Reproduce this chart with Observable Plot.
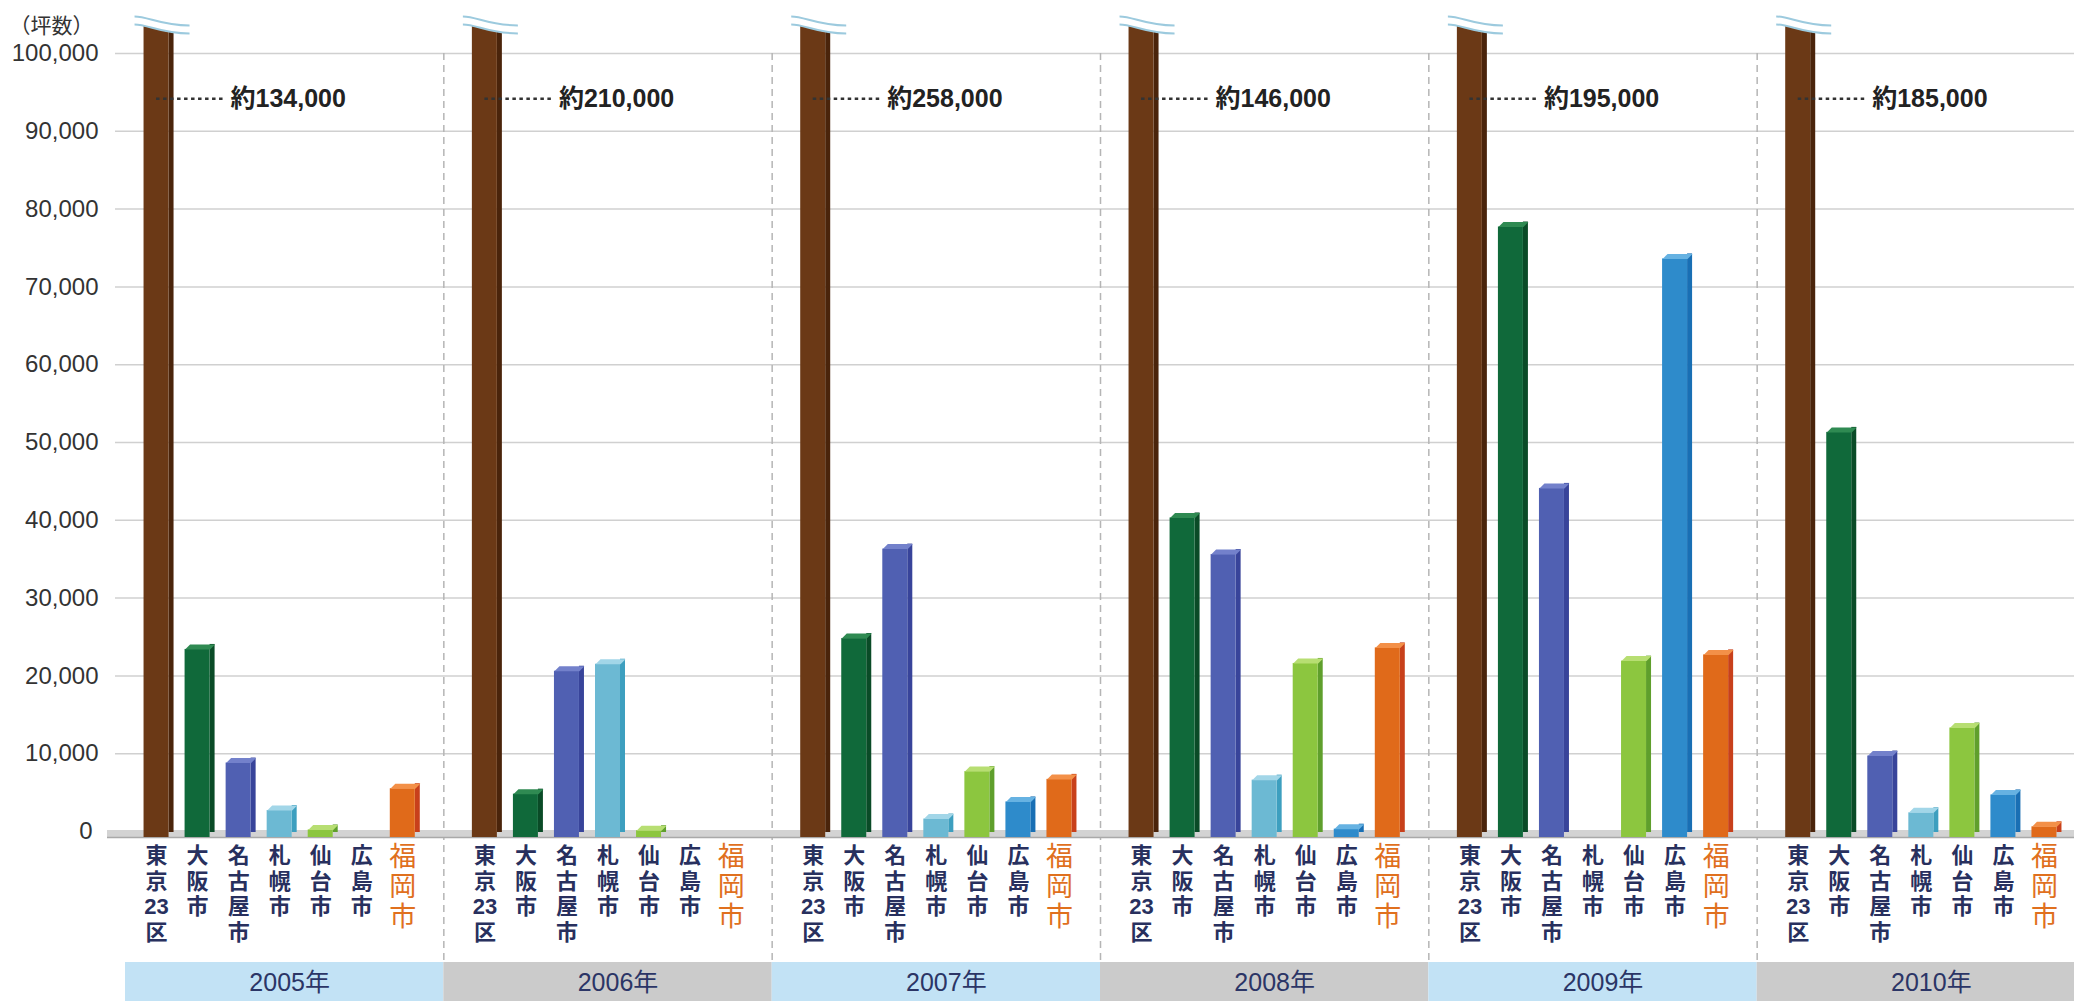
<!DOCTYPE html>
<html><head><meta charset="utf-8">
<script src="https://cdn.jsdelivr.net/npm/d3@7"></script>
<script src="https://cdn.jsdelivr.net/npm/@observablehq/plot@0.6"></script>
<style>html,body{margin:0;padding:0;background:#fff;overflow:hidden}</style>
</head><body><div id="chart"></div>
<script>
// ---- data ----
const years = ["2005年","2006年","2007年","2008年","2009年","2010年"];
const cities = ["東京23区","大阪市","名古屋市","札幌市","仙台市","広島市","福岡市"];
const tokyo     = [134000, 210000, 258000, 146000, 195000, 185000]; // 約 values (axis broken)
const osaka     = [23400,   4800, 24800, 40300, 77700, 51300];
const nagoya    = [ 8800,  20600, 36300, 35600, 44100,  9700];
const sapporo   = [ 2700,  21500,  1600,  6600,     0,  2400];
const sendai    = [  200,    100,  7700, 21600, 21900, 13300];
const hiroshima = [    0,      0,  3800,   300, 73600,  4700];
const fukuoka   = [ 5500,      0,  6700, 23600, 22700,   600];
const yTicks = [0,10000,20000,30000,40000,50000,60000,70000,80000,90000,100000];
const unitLabel = "（坪数）";
const approxPrefix = "約";

// ---- styles ----
const FONT = '"Liberation Sans", "Noto Sans CJK JP", sans-serif';
const frontColors = ["#6b3916","#10693a","#5060b2","#6cb9d3","#8cc63f","#2e8bcb","#e06a1a"];
const sideColors  = ["#4a240b","#0a4b27","#38449a","#3d9fbf","#5f9f2c","#196fb4","#c8401b"];
const topColors   = ["#8d5631","#2f8a52","#7381cb","#a2d6e8","#b7de72","#66b2e2","#f39048"];

const series = [tokyo, osaka, nagoya, sapporo, sendai, hiroshima, fukuoka];
const rows = [];
years.forEach((year, yi) => cities.forEach((city, ci) =>
  rows.push({year, yi, city, ci, value: series[ci][yi], pos: yi * 8 + ci + 1})));
const tokyoRows = rows.filter(d => d.ci === 0);
const vertical = s => s.match(/\d+|./g).join("\n");

// custom symbols (drawn relative to the scaled point)
const topFace = {draw(c){ c.moveTo(-12.5,0); c.lineTo(12.5,0); c.lineTo(17.5,-5); c.lineTo(-7.5,-5); c.closePath(); }};
const breakFill = {draw(c){ c.moveTo(-22,-24); c.lineTo(33,-24); c.lineTo(33,11); c.bezierCurveTo(4,11,-8,2,-22,2); c.closePath(); }};
const breakLines = {draw(c){
  c.moveTo(-22,-6); c.bezierCurveTo(-8,-6,4,3,33,3);
  c.moveTo(-22,2); c.bezierCurveTo(-8,2,4,11,33,11);
}};

const marks = [];
// year bands
years.forEach((y, i) => {
  marks.push(Plot.rect([i], {x1: d => d * 8, x2: d => (d + 1) * 8, y1: () => 0, y2: () => 0,
    insetLeft: i === 0 ? 10 : 0, insetTop: 131, insetBottom: -170, fill: i % 2 === 0 ? "#c2e2f5" : "#cbcbcb"}));
});
// gridlines
marks.push(Plot.ruleY(yTicks.filter(d => d > 0), {y: d => d, x1: () => 0, x2: () => 48, stroke: "#d0d0d0", strokeWidth: 1.5}));
// dashed separators
marks.push(Plot.ruleX(years.slice(1).map((y, i) => i + 1), {x: d => d * 8, y1: () => 100000, y2: () => 0,
  insetBottom: -131, stroke: "#b5b5b5", strokeWidth: 1.5, strokeDasharray: "7,5"}));
// floor
marks.push(Plot.rect([0], {x1: () => 0, x2: () => 48, y1: () => 0, y2: () => 0, insetLeft: -8, insetTop: -1, insetBottom: -6, fill: "#d3d3d3"}));
marks.push(Plot.ruleY([0], {y: d => d, x1: () => 0, x2: () => 48, insetLeft: -8, dy: 6, stroke: "#a9a9a9", strokeWidth: 1.5}));
// bars
cities.forEach((c, ci) => {
  const data = rows.filter(d => d.ci === ci && d.value > 0);
  marks.push(Plot.rect(data, {x1: "pos", x2: "pos", y1: () => 0, y2: "value", insetLeft: 12.5, insetRight: -17.5, insetBottom: -6, dy: -5, fill: sideColors[ci]}));
  marks.push(Plot.rect(data, {x1: "pos", x2: "pos", y1: () => 0, y2: "value", insetLeft: -12.5, insetRight: -12.5, insetBottom: -6, fill: frontColors[ci]}));
  if (ci > 0) marks.push(Plot.dot(data, {x: "pos", y: "value", symbol: topFace, fill: topColors[ci]}));
});
// axis break marks on Tokyo bars
marks.push(Plot.dot(tokyoRows, {x: "pos", y: "value", symbol: breakFill, fill: "#ffffff"}));
marks.push(Plot.dot(tokyoRows, {x: "pos", y: "value", symbol: breakLines, fill: "none", stroke: "#9ccade", strokeWidth: 2}));
// approximate value annotations
marks.push(Plot.ruleY(tokyoRows, {y: () => 94200, x1: "pos", x2: "pos", insetLeft: 0, insetRight: -70, stroke: "#333", strokeWidth: 2.5, strokeDasharray: "3.5,3.5"}));
marks.push(Plot.text(tokyoRows, {x: "pos", y: () => 94200, dx: 74, textAnchor: "start", text: d => approxPrefix + d3.format(",")(d.value),
  fontSize: 25, fontWeight: "bold", fill: "#222", fontFamily: FONT}));
// y tick labels
marks.push(Plot.text(yTicks.filter(d => d > 0), {y: d => d, frameAnchor: "left", dx: -17, textAnchor: "end", text: d => d3.format(",")(d), fontSize: 24, fill: "#333", fontFamily: FONT}));
marks.push(Plot.text(yTicks.filter(d => d === 0), {y: d => d, frameAnchor: "left", dx: -23, textAnchor: "end", text: d => d3.format(",")(d), fontSize: 24, fill: "#333", fontFamily: FONT}));
marks.push(Plot.text([unitLabel], {frameAnchor: "top-left", dx: -106, dy: 18, textAnchor: "start", text: d => d, fontSize: 21, fill: "#333", fontFamily: FONT}));
// category labels
marks.push(Plot.text(rows.filter(d => d.ci < 6), {x: "pos", y: () => 0, dy: 13, lineAnchor: "top", lineHeight: 1.17, text: d => vertical(d.city),
  fontSize: 22, fontWeight: "bold", fill: "#28305e", fontFamily: FONT}));
marks.push(Plot.text(rows.filter(d => d.ci === 6), {x: "pos", y: () => 0, dy: 13, lineAnchor: "top", lineHeight: 1.11, text: d => vertical(d.city),
  fontSize: 27, fill: "#e0701e", fontFamily: FONT}));
// year labels
marks.push(Plot.text(years, {x: (d, i) => i * 8 + 4, y: () => 0, dy: 151, dx: 10, text: d => d, fontSize: 25, fill: "#2b3566", fontFamily: FONT}));

const chart = Plot.plot({
  width: 2074, height: 1001,
  marginLeft: 115, marginRight: 0, marginTop: 0, marginBottom: 0,
  x: {type: "linear", domain: [0, 48], range: [115, 2085], axis: null},
  y: {domain: [0, 104000], range: [831, 21.9], clamp: true, axis: null},
  style: {background: "#fff", fontFamily: FONT},
  marks
});
document.getElementById("chart").appendChild(chart);
</script>
</body></html>
